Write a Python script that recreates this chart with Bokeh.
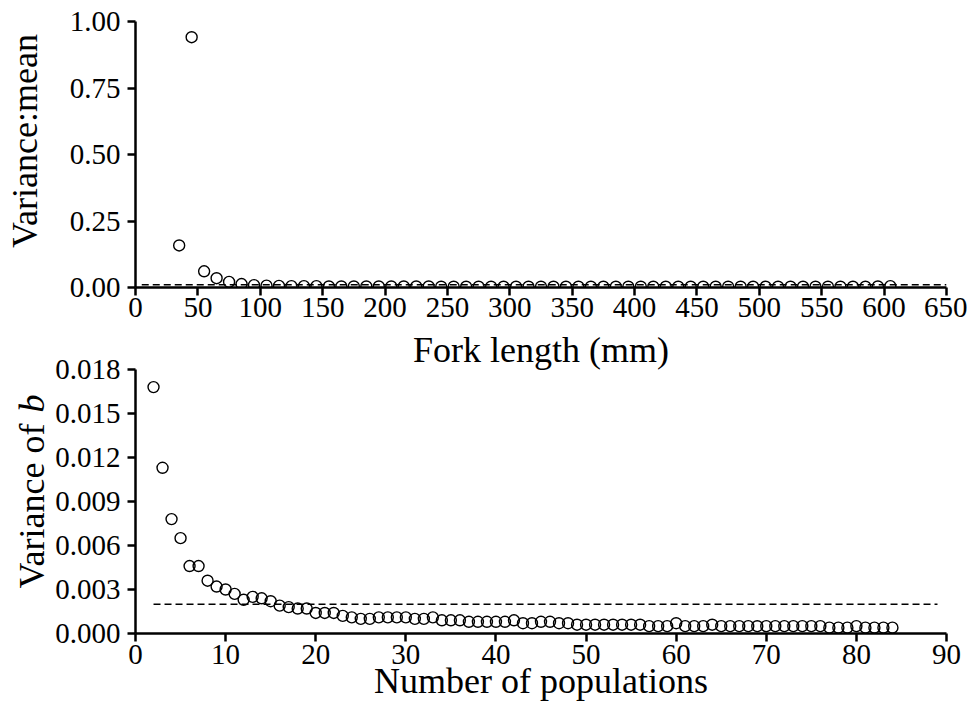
from bokeh.plotting import figure
from bokeh.layouts import column, row
from bokeh.models import Range1d, FixedTicker, PrintfTickFormatter, Title
from bokeh.embed import file_html
from bokeh.resources import INLINE
from bokeh.core.properties import value

# ---------------- data ----------------
fork_length = [35, 45, 55, 65, 75, 85, 95, 105, 115, 125,
               135, 145, 155, 165, 175, 185, 195, 205, 215, 225,
               235, 245, 255, 265, 275, 285, 295, 305, 315, 325,
               335, 345, 355, 365, 375, 385, 395, 405, 415, 425,
               435, 445, 455, 465, 475, 485, 495, 505, 515, 525,
               535, 545, 555, 565, 575, 585, 595, 605]
variance_mean = [0.158, 0.941, 0.061, 0.035, 0.021, 0.013, 0.009, 0.007, 0.006, 0.005,
                 0.005, 0.005, 0.004, 0.004, 0.004, 0.004, 0.004, 0.004, 0.004, 0.004,
                 0.004, 0.003, 0.003, 0.003, 0.003, 0.003, 0.003, 0.003, 0.003, 0.003,
                 0.003, 0.003, 0.003, 0.003, 0.003, 0.003, 0.003, 0.003, 0.003, 0.003,
                 0.003, 0.003, 0.003, 0.003, 0.003, 0.003, 0.003, 0.003, 0.003, 0.003,
                 0.003, 0.003, 0.003, 0.003, 0.003, 0.003, 0.004, 0.005]
variance_mean_threshold = 0.01
variance_mean_threshold_span = [5, 650]

n_populations = [2, 3, 4, 5, 6, 7, 8, 9, 10, 11, 12, 13, 14, 15, 16, 17, 18, 19, 20,
                 21, 22, 23, 24, 25, 26, 27, 28, 29, 30, 31, 32, 33, 34, 35, 36, 37,
                 38, 39, 40, 41, 42, 43, 44, 45, 46, 47, 48, 49, 50, 51, 52, 53, 54,
                 55, 56, 57, 58, 59, 60, 61, 62, 63, 64, 65, 66, 67, 68, 69, 70, 71,
                 72, 73, 74, 75, 76, 77, 78, 79, 80, 81, 82, 83, 84]
variance_b = [0.0168, 0.0113, 0.0078, 0.0065, 0.0046, 0.0046, 0.0036, 0.0032, 0.0030,
              0.0027, 0.0023, 0.0025, 0.0024, 0.0022, 0.0019, 0.0018, 0.0017, 0.0017,
              0.0014, 0.0014, 0.0014, 0.0012, 0.0011, 0.0010, 0.0010, 0.0011, 0.0011,
              0.0011, 0.0011, 0.0010, 0.0010, 0.0011, 0.0009, 0.0009, 0.0009, 0.0008,
              0.0008, 0.0008, 0.0008, 0.0008, 0.0009, 0.0007, 0.0007, 0.0008, 0.0008,
              0.0007, 0.0007, 0.0006, 0.0006, 0.0006, 0.0006, 0.0006, 0.0006, 0.0006,
              0.0006, 0.0005, 0.0005, 0.0005, 0.0007, 0.0005, 0.0005, 0.0005, 0.0006,
              0.0005, 0.0005, 0.0005, 0.0005, 0.0005, 0.0005, 0.0005, 0.0005, 0.0005,
              0.0005, 0.0005, 0.0005, 0.0004, 0.0004, 0.0004, 0.0005, 0.0004, 0.0004,
              0.0004, 0.0004]
variance_b_threshold = 0.002
variance_b_threshold_span = [2, 89]

top_x_ticks = [0, 50, 100, 150, 200, 250, 300, 350, 400, 450, 500, 550, 600, 650]
top_y_ticks = [0.0, 0.25, 0.5, 0.75, 1.0]
bot_x_ticks = [0, 10, 20, 30, 40, 50, 60, 70, 80, 90]
bot_y_ticks = [0.0, 0.003, 0.006, 0.009, 0.012, 0.015, 0.018]

top_x_title = "Fork length (mm)"
top_y_title = "Variance:mean"
bot_x_title = "Number of populations"
bot_y_title_plain = "Variance of"
bot_y_title_italic = "b"

# ---------------- style ----------------
FONT = "Liberation Serif"
TICK_FS = "29px"
TITLE_FS = "36px"
TITLE_PX = 36
PAGE_W = 967
FRAME_LEFT = 135
FRAME_W = 811
RIGHT = PAGE_W - FRAME_LEFT - FRAME_W
LABEL_FIG_W = 52


def style_axes(p):
    for ax in (p.xaxis[0], p.yaxis[0]):
        ax.axis_line_width = 2.5
        ax.axis_line_color = "black"
        ax.major_tick_line_width = 2.5
        ax.major_tick_line_color = "black"
        ax.major_tick_out = 8
        ax.major_tick_in = 0
        ax.minor_tick_out = 0
        ax.minor_tick_in = 0
        ax.major_label_text_font = FONT
        ax.major_label_text_font_size = TICK_FS
        ax.major_label_text_color = "black"
        ax.axis_label_text_font = FONT
        ax.axis_label_text_font_size = TITLE_FS
        ax.axis_label_text_font_style = "normal"
        ax.axis_label_text_color = "black"
    p.xgrid.visible = False
    p.ygrid.visible = False
    p.outline_line_color = None


# ---------------- top plot ----------------
TOP_BORDER = 21
TOP_FRAME_H = 266
TOP_BOTTOM = 37
TOP_H = TOP_BORDER + TOP_FRAME_H + TOP_BOTTOM
p1 = figure(width=PAGE_W, height=TOP_H,
            output_backend="svg", toolbar_location=None,
            x_range=Range1d(0, 650), y_range=Range1d(0, 1.0),
            min_border_left=FRAME_LEFT, min_border_right=RIGHT,
            min_border_top=TOP_BORDER, min_border_bottom=TOP_BOTTOM)
style_axes(p1)
p1.xaxis.ticker = FixedTicker(ticks=top_x_ticks)
p1.yaxis.ticker = FixedTicker(ticks=top_y_ticks)
p1.yaxis.formatter = PrintfTickFormatter(format="%.2f")
p1.yaxis.axis_label = "\u00a0\u00a0\u00a0" + top_y_title
p1.xaxis.major_label_standoff = 2
p1.yaxis.major_label_standoff = 7
p1.yaxis.axis_label_standoff = 22

p1.line(variance_mean_threshold_span,
        [variance_mean_threshold, variance_mean_threshold],
        line_color="black", line_width=1.5, line_dash="7 4")
p1.scatter(fork_length, variance_mean, marker="circle", size=11,
           fill_alpha=0, line_color="black", line_width=1.4)

# ---------------- bottom plot ----------------
BOT_TOP = 45
BOT_FRAME_H = 264
BOT_BOTTOM = 76
BOT_H = BOT_TOP + BOT_FRAME_H + BOT_BOTTOM
p2 = figure(width=PAGE_W - LABEL_FIG_W, height=BOT_H,
            output_backend="svg", toolbar_location=None,
            x_range=Range1d(0, 90), y_range=Range1d(0, 0.018),
            min_border_left=FRAME_LEFT - LABEL_FIG_W, min_border_right=RIGHT,
            min_border_top=BOT_TOP, min_border_bottom=BOT_BOTTOM)
style_axes(p2)
p2.xaxis.ticker = FixedTicker(ticks=bot_x_ticks)
p2.yaxis.ticker = FixedTicker(ticks=bot_y_ticks)
p2.yaxis.formatter = PrintfTickFormatter(format="%.3f")
p2.xaxis.axis_label = bot_x_title
p2.xaxis.major_label_standoff = 3
p2.xaxis.axis_label_standoff = -6
p2.yaxis.major_label_standoff = 7

# x-axis title of the upper panel sits in the gap between the two panels
p2.add_layout(Title(text=top_x_title, align="center", standoff=0, offset=0,
                    text_font=FONT, text_font_size=TITLE_FS,
                    text_font_style="normal", text_color="black"), "above")

p2.line(variance_b_threshold_span,
        [variance_b_threshold, variance_b_threshold],
        line_color="black", line_width=1.5, line_dash="7 4")
p2.scatter(n_populations, variance_b, marker="circle", size=11,
           fill_alpha=0, line_color="black", line_width=1.4)

# ---------------- y title of the lower panel (with italic b) ----------------
# This strip's frame is aligned with the lower plot's frame by the row layout,
# so its y range is expressed in pixels above that frame's bottom edge.
lab = figure(width=LABEL_FIG_W, height=BOT_H, output_backend="svg",
             toolbar_location=None, x_axis_type=None, y_axis_type=None,
             x_range=Range1d(0, LABEL_FIG_W), y_range=Range1d(0, BOT_FRAME_H),
             min_border=0, min_border_left=0, min_border_right=0,
             min_border_top=BOT_TOP, min_border_bottom=BOT_BOTTOM)
lab.outline_line_color = None
lab.xgrid.visible = False
lab.ygrid.visible = False
title_mid_x = 31                        # centre of the rotated text line, px
title_start = 43                        # px above frame bottom where the title begins
plain_w = 4.692 * TITLE_PX              # advance width of "Variance of"
space_w = 0.25 * TITLE_PX
b_w = 0.5 * TITLE_PX
plain_centre = title_start + plain_w / 2
b_centre = title_start + plain_w + space_w + b_w / 2
lab.text(x=[title_mid_x], y=[plain_centre], text=[bot_y_title_plain],
         angle=90, angle_units="deg", text_align="center",
         text_baseline="middle", text_font=value(FONT),
         text_font_size=value(TITLE_FS), text_color="black")
lab.text(x=[title_mid_x], y=[b_centre], text=[bot_y_title_italic],
         angle=90, angle_units="deg", text_align="center",
         text_baseline="middle", text_font=value(FONT),
         text_font_size=value(TITLE_FS), text_font_style="italic", text_color="black")

layout = column(p1, row(lab, p2, spacing=0), spacing=0)
open("out.html", "w").write(file_html(layout, INLINE))
